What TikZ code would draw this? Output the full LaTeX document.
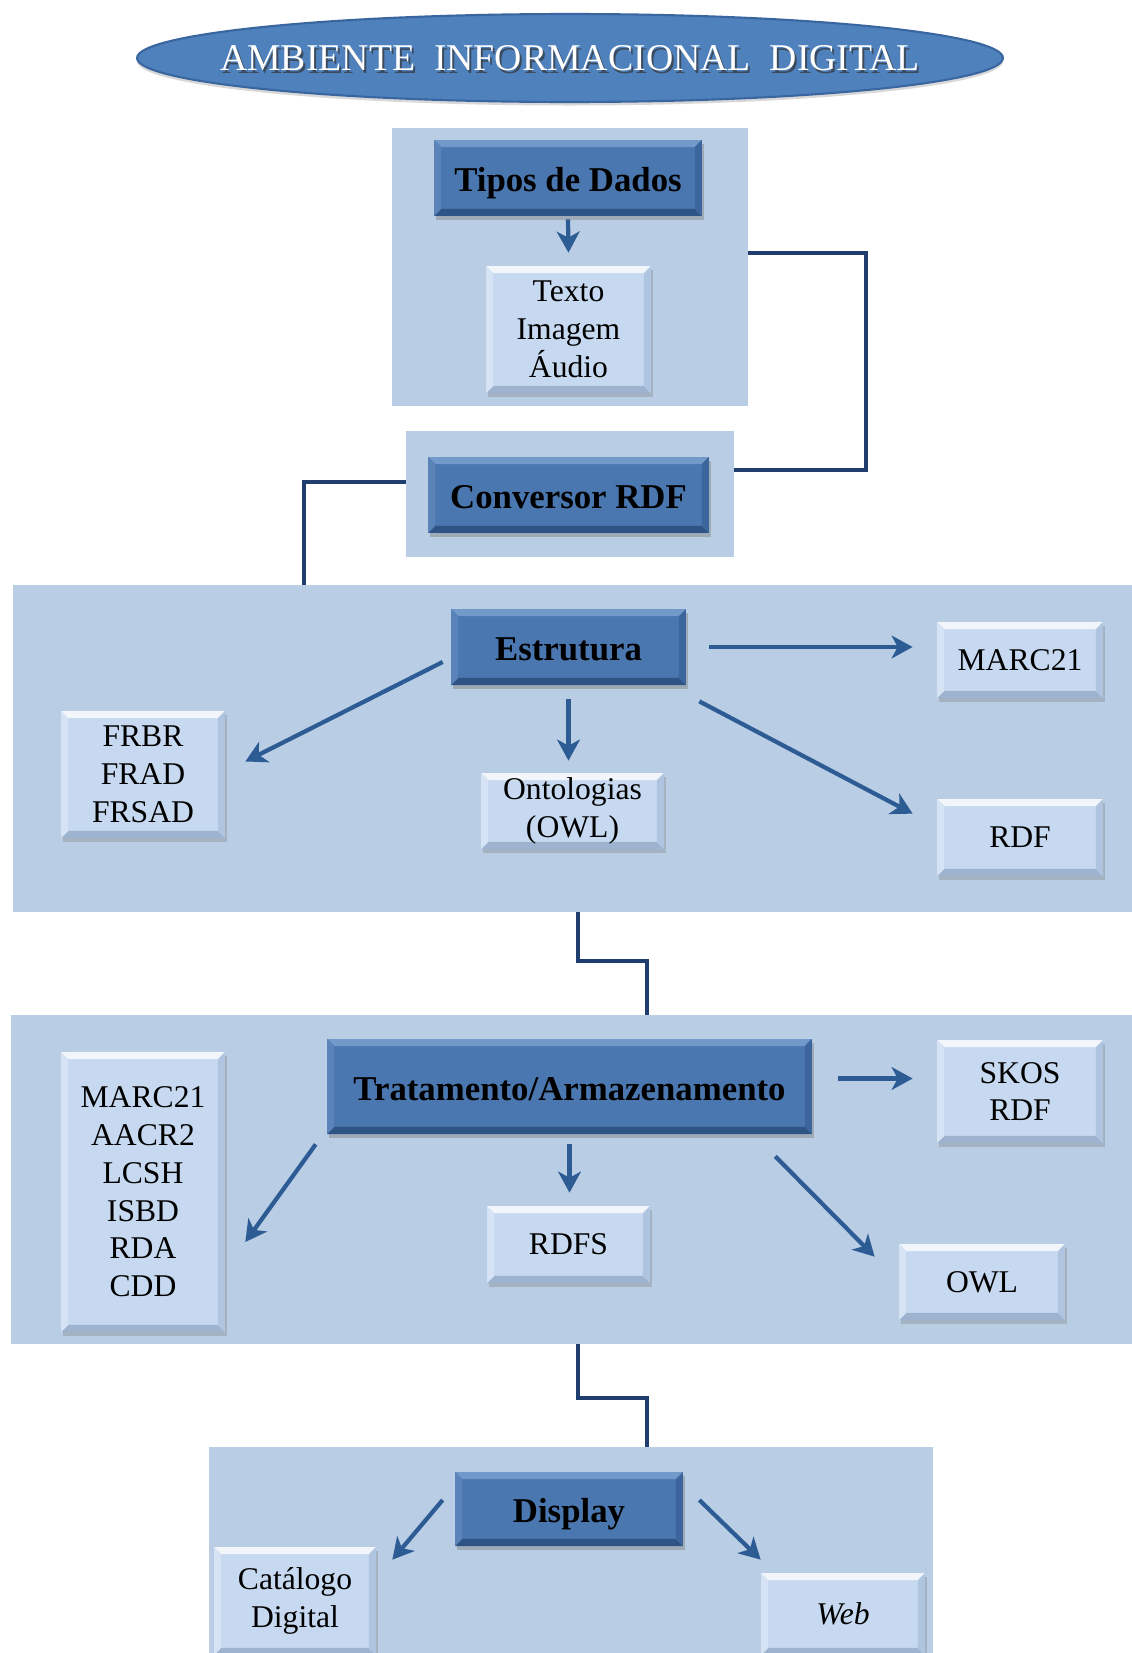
\documentclass[tikz,border=0pt]{standalone}
\usepackage{fontspec}
\setmainfont{Liberation Serif}
\usetikzlibrary{arrows.meta,shadows,fit,shapes.geometric}
\definecolor{panelc}{HTML}{B9CDE5}
\definecolor{dkfill}{HTML}{4A77AF}
\definecolor{dktop}{HTML}{7199C9}
\definecolor{dkbot}{HTML}{2E5486}
\definecolor{dkside}{HTML}{3B659C}
\definecolor{dkleft}{HTML}{5A84B9}
\definecolor{ltfill}{HTML}{C7D9F0}
\definecolor{lttop}{HTML}{F2F6FB}
\definecolor{ltbot}{HTML}{9DB3D0}
\definecolor{ltside}{HTML}{AFC4DE}
\definecolor{ltleft}{HTML}{D6E3F4}
\definecolor{connc}{HTML}{1F3D6E}
\definecolor{arrc}{HTML}{2D5B94}
\definecolor{ellc}{HTML}{4F81BD}
\definecolor{elld}{HTML}{3A66A0}
\newcommand\bvl[4]{%
 \fill[#1] (path picture bounding box.north west) -- (path picture bounding box.north east) -- ([shift={(-4pt,-4pt)}]path picture bounding box.north east) -- ([shift={(4pt,-4pt)}]path picture bounding box.north west) -- cycle;
 \fill[#2] (path picture bounding box.south west) -- (path picture bounding box.south east) -- ([shift={(-4pt,4pt)}]path picture bounding box.south east) -- ([shift={(4pt,4pt)}]path picture bounding box.south west) -- cycle;
 \fill[#3] (path picture bounding box.north east) -- (path picture bounding box.south east) -- ([shift={(-4pt,4pt)}]path picture bounding box.south east) -- ([shift={(-4pt,-4pt)}]path picture bounding box.north east) -- cycle;
 \fill[#4] (path picture bounding box.north west) -- (path picture bounding box.south west) -- ([shift={(4pt,4pt)}]path picture bounding box.south west) -- ([shift={(4pt,-4pt)}]path picture bounding box.north west) -- cycle;
}
\tikzset{
 panelbox/.style={rectangle, fill=panelc, draw=none, inner sep=0pt},
 sz/.style 2 args={minimum width=#1cm, minimum height=#2cm},
 dkbox/.style={rectangle, inner sep=0pt, fill=dkfill, text=black, align=center,
   text height=15.5pt, text depth=0pt,
   drop shadow={opacity=0.45, shadow xshift=1.2pt, shadow yshift=-2.2pt},
   font=\fontsize{19.8}{23}\selectfont\bfseries,
   path picture={\bvl{dktop}{dkbot}{dkside}{dkleft}}},
 ltbox/.style={rectangle, inner sep=0pt, fill=ltfill, text=black, align=center,
   drop shadow={opacity=0.35, shadow xshift=1.2pt, shadow yshift=-2.2pt},
   font=\fontsize{18}{21.5}\selectfont,
   path picture={\bvl{lttop}{ltbot}{ltside}{ltleft}}},
 conn/.style={draw=connc, line width=2.2pt, line join=miter},
 arrowst/.style={draw=arrc, line width=2.4pt, -{Stealth[length=12pt,width=13pt,inset=3.5pt]}},
}
\begin{document}
\begin{tikzpicture}[x=0.02cm,y=-0.02cm]
\useasboundingbox (0,0) rectangle (1132,1653);
\clip (0,0) rectangle (1132,1653);
\fill[white] (0,0) rectangle (1132,1653);

% title
\node[ellipse, fill=ellc, draw=elld, line width=1.2pt, minimum width=17.32cm, minimum height=1.76cm, inner sep=0pt,
  drop shadow={opacity=0.3, shadow xshift=0pt, shadow yshift=-2pt}] (title) at (570,58) {};
\node[text=black!80, opacity=0.7, font=\fontsize{21.5}{25}\selectfont] (titleshadow) at (572,61) {AMBIENTE\ \ INFORMACIONAL\ \ DIGITAL};
\node[text=white, font=\fontsize{21.5}{25}\selectfont] (titletext) at (570,58) {AMBIENTE\ \ INFORMACIONAL\ \ DIGITAL};

% panels
\node[panelbox, fit={(392,128)(748,406)}] (tipospanel) {};
\node[panelbox, fit={(406,431)(734,557)}] (convpanel) {};
\node[panelbox, fit={(13,585)(1140,912)}] (estpanel) {};
\node[panelbox, fit={(11,1015)(1140,1344)}] (tratpanel) {};
\node[panelbox, fit={(209,1447)(933,1670)}] (disppanel) {};

% connectors between panels
\coordinate (r1) at (866,253);
\coordinate (r2) at (866,470);
\draw[conn] (tipospanel.east |- r1) -- (r1) -- (r2) -- (convpanel.east |- r2);
\coordinate (l1) at (304,482);
\draw[conn] (convpanel.west |- l1) -- (l1) -- (l1 |- estpanel.north);
\coordinate (m1) at (578,961);
\coordinate (m2) at (647,961);
\draw[conn] (m1 |- estpanel.south) -- (m1) -- (m2) -- (m2 |- tratpanel.north);
\coordinate (n1) at (578,1398);
\coordinate (n2) at (647,1398);
\draw[conn] (n1 |- tratpanel.south) -- (n1) -- (n2) -- (n2 |- disppanel.north);

% Tipos de dados
\node[dkbox, sz={5.36}{1.52}] (tipos) at (568,178) {Tipos de Dados};
\node[ltbox, sz={3.3}{2.54}] (texto) at (568.5,329.5) {Texto\\Imagem\\Áudio};
\draw[arrowst] ([shift={(0,3)}]tipos.south) -- ([shift={(0,-13)}]texto.north);

% Conversor
\node[dkbox, sz={5.62}{1.52}] (conv) at (568.5,495) {Conversor RDF};

% Estrutura
\node[dkbox, sz={4.7}{1.52}] (estr) at (568.5,647) {Estrutura};
\node[ltbox, sz={3.32}{1.52}] (marc) at (1020,660) {MARC21};
\node[ltbox, sz={3.28}{2.54}] (frbr) at (143,774.5) {FRBR\\FRAD\\FRSAD};
\node[ltbox, sz={3.66}{1.52}] (onto) at (572.5,811) {Ontologias\\(OWL)};
\node[ltbox, sz={3.32}{1.54}] (rdf) at (1020,837.5) {RDF};
\draw[arrowst] ([shift={(23,0)}]estr.east) -- ([shift={(-24,0)}]estr.east -| marc.west);
\draw[arrowst] ([shift={(-8,15)}]estr.west) -- ([shift={(20,-13)}]frbr.east);
\draw[arrowst] ([shift={(0,14)}]estr.south) -- ([shift={(0,-12)}]estr.south |- onto.north);
\draw[arrowst] ([shift={(13,16)}]estr.south east) -- ([shift={(-24,15)}]rdf.north west);

% Tratamento
\node[dkbox, sz={9.7}{1.9}] (trat) at (569.5,1086.5) {Tratamento/Armazenamento};
\node[ltbox, sz={3.32}{2.06}] (skos) at (1020,1091.5) {SKOS\\RDF};
\node[ltbox, sz={3.28}{5.6}] (marclist) at (143,1192) {MARC21\\AACR2\\LCSH\\ISBD\\RDA\\CDD};
\node[ltbox, sz={3.26}{1.54}] (rdfs) at (568.5,1244.5) {RDFS};
\node[ltbox, sz={3.32}{1.52}] (owl) at (982,1282) {OWL};
\draw[arrowst] ([shift={(26,-8)}]trat.east) -- ([shift={(-24,-8)}]trat.east -| skos.west);
\draw[arrowst] ([shift={(-11,10)}]trat.south west) -- ([shift={(20,50)}]marclist.east);
\draw[arrowst] ([shift={(0,10)}]trat.south) -- ([shift={(0,-13)}]trat.south |- rdfs.north);
\draw[arrowst] ([shift={(-37,22)}]trat.south east) -- ([shift={(-24,13)}]owl.north west);

% Display
\node[dkbox, sz={4.56}{1.48}] (disp) at (569,1509) {Display};
\node[ltbox, sz={3.24}{2.16}] (cat) at (295,1601) {Catálogo\\Digital};
\node[ltbox, sz={3.28}{1.64}] (web) at (843,1614) {\itshape Web};
\draw[arrowst] ([shift={(-12,-9)}]disp.west) -- ([shift={(16,13)}]cat.north east);
\draw[arrowst] ([shift={(16,-9)}]disp.east) -- ([shift={(0,-13)}]web.north west);
\end{tikzpicture}
\end{document}
